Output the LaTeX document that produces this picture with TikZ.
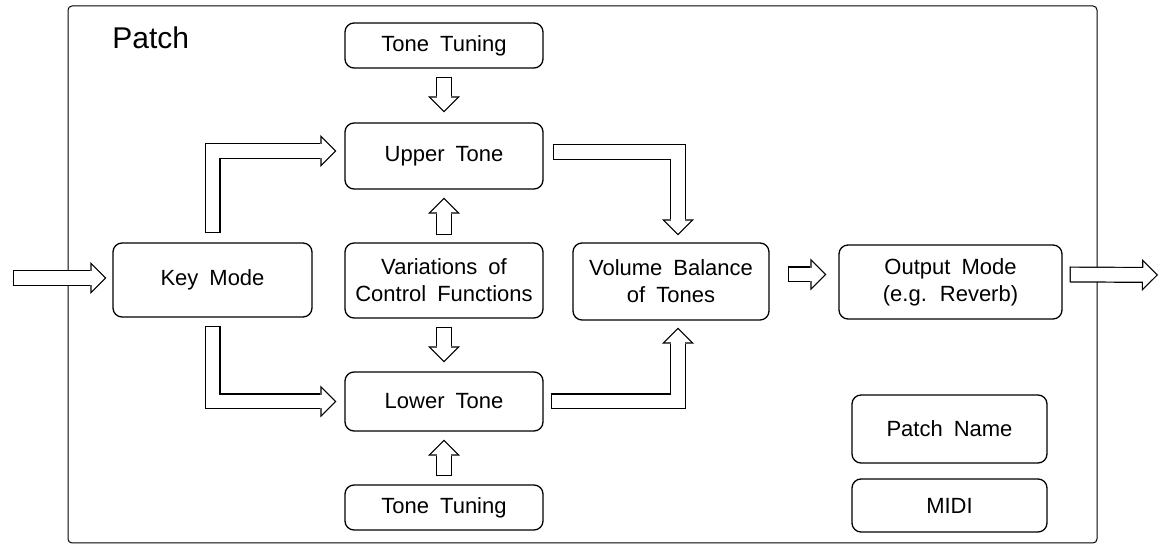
\documentclass[tikz,border=0pt]{standalone}
\usepackage{fontspec}
\setmainfont{Liberation Sans}
\usetikzlibrary{arrows.meta, calc}

\newcommand{\boxfont}{\fontsize{11}{13.5}\selectfont\spaceskip=0.5em\relax}
\newcommand{\fatarrow}[1]{%
	\draw [fatout] #1;
	\draw [fatin] #1;}

\tikzset{
	box/.style={draw, line width=0.65pt, rounded corners=4.5pt, minimum width=99pt,
		align=center, inner sep=1pt, font=\boxfont},
	fatout/.style={line width=8pt, line join=miter,
		-{Triangle[length=8pt, width=16pt, line width=0pt]}},
	fatin/.style={white, line width=6.8pt, line join=miter, shorten <=0.6pt, shorten >=0.85pt,
		-{Triangle[length=6.55pt, width=13.1pt, line width=0pt]}}
}

\begin{document}
\begin{tikzpicture}[x=0.5pt, y=-0.5pt]
	\useasboundingbox (0,0) rectangle (1163,555);
	\draw [line width=0.5pt, rounded corners=2pt] (68,6) rectangle (1097,543);
	\path (112,49) node [anchor=base west, inner sep=0pt, font=\fontsize{15}{18}\selectfont] {Patch};

	\node [box, minimum height=22.5pt] (tuneU) at (444,45.5) {Tone Tuning};
	\node [box, minimum height=33pt] (upper) at (444,156) {Upper Tone};
	\node [box, minimum height=37.5pt] (var) at (444,280.5) {Variations of\\Control Functions};
	\node [box, minimum height=29.5pt] (lower) at (444,401.5) {Lower Tone};
	\node [box, minimum height=22.5pt] (tuneL) at (444,507.5) {Tone Tuning};
	\node [box, minimum width=99.5pt, minimum height=37pt] (key) at (212.5,280) {Key Mode};
	\node [box, minimum width=98pt, minimum height=38.5pt] (vol) at (671,281.5) {Volume Balance\\of Tones};
	\node [box, minimum width=111.5pt, minimum height=37pt] (out) at (950.5,282) {Output Mode\\(e.g. Reverb)};
	\node [box, minimum width=97.5pt, minimum height=34pt] (name) at (949.5,429) {Patch Name};
	\node [box, minimum width=97.5pt, minimum height=26.5pt] (midi) at (949.5,505.5) {MIDI};

	% signal path
	\coordinate (entry) at (13,278);
	\coordinate (exit) at (1158,275);
	\coordinate (o1) at ([xshift=9pt, yshift=3.5pt]vol.east);
	\fatarrow{(entry) -- ([xshift=-3pt]entry -| key.west)}
	\fatarrow{([yshift=4.5pt]key.north) |- ([xshift=-4pt, yshift=2.5pt]upper.west)}
	\fatarrow{([yshift=-4pt]key.south) |- ([xshift=-4pt]lower.west)}
	\fatarrow{([yshift=-4pt]tuneU.south) -- ([yshift=5pt]upper.north)}
	\fatarrow{([yshift=3.5pt]var.north) -- ([yshift=-4pt]upper.south)}
	\fatarrow{([yshift=-4pt]var.south) -- ([yshift=4.5pt]lower.north)}
	\fatarrow{([yshift=4pt]tuneL.north) -- ([yshift=-4pt]lower.south)}
	\fatarrow{([xshift=4.5pt, yshift=2pt]upper.east) -| ([xshift=3.5pt, yshift=3.5pt]vol.north)}
	\fatarrow{([xshift=3.5pt]lower.east) -| ([xshift=3.5pt, yshift=-3.5pt]vol.south)}
	\fatarrow{(o1) -- ([xshift=-6pt]o1 -| out.west)}
	\fatarrow{([xshift=3.5pt]o1 -| out.east) -- (exit)}

\end{tikzpicture}
\end{document}
